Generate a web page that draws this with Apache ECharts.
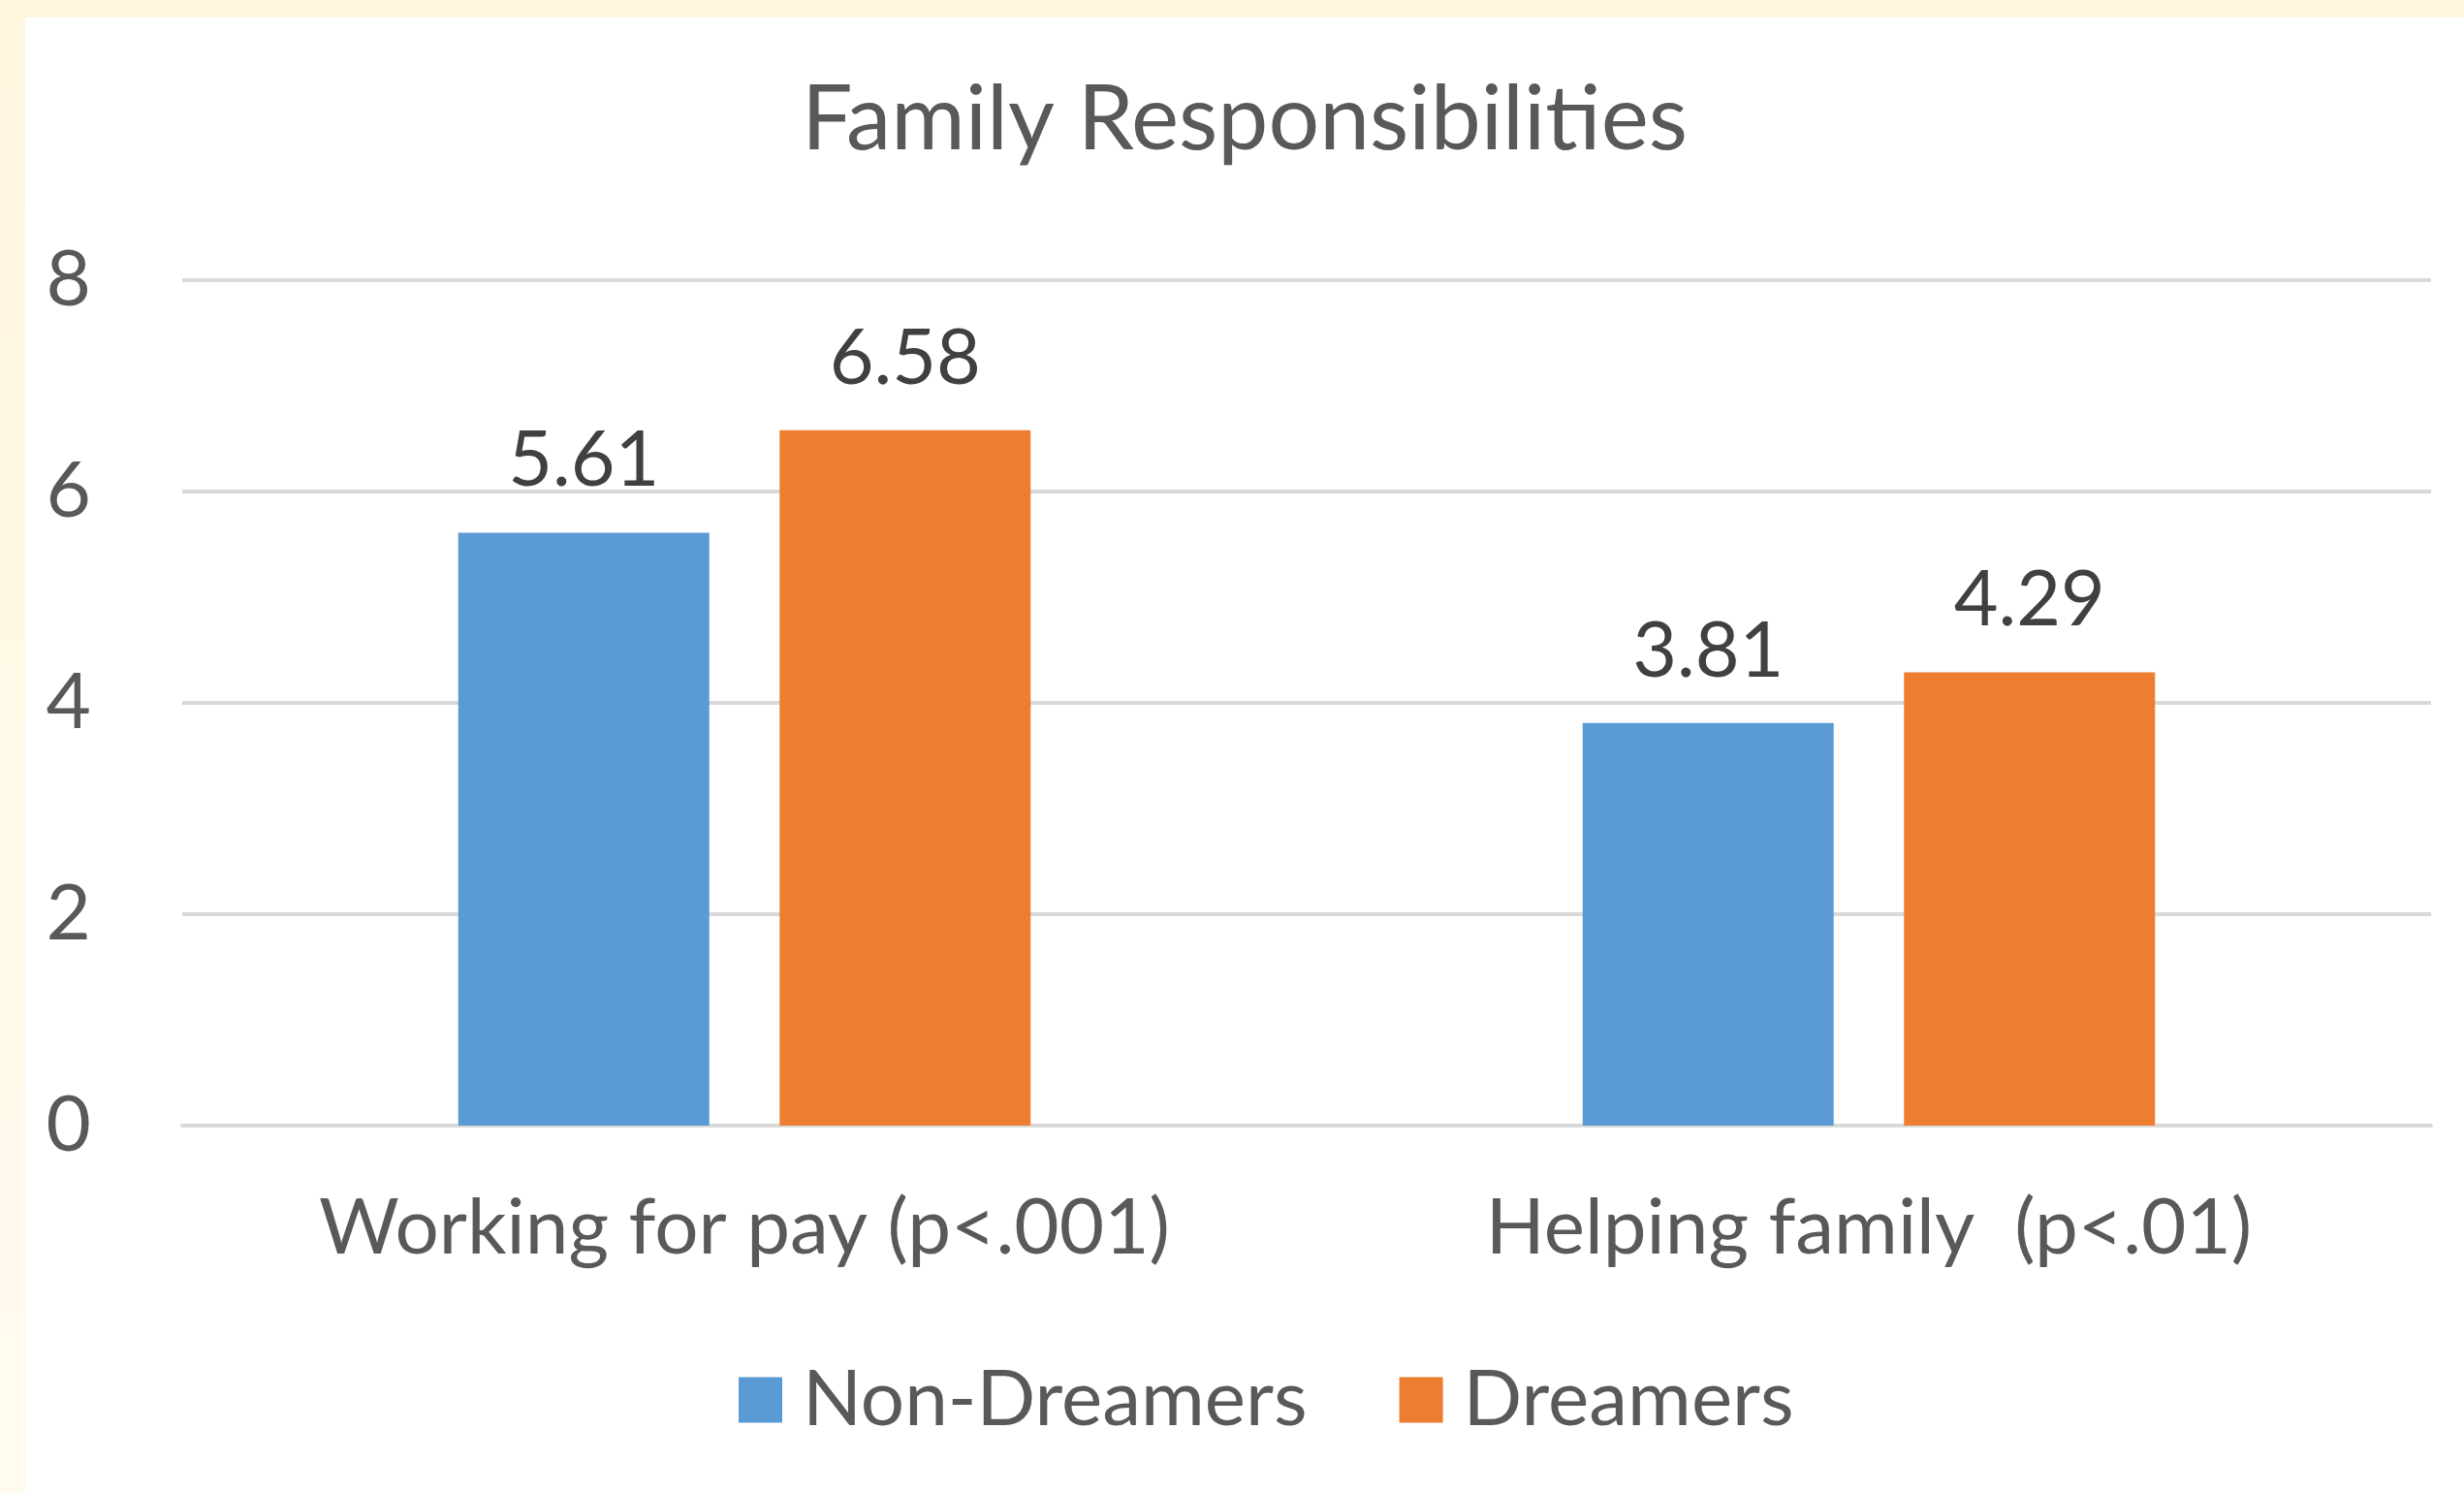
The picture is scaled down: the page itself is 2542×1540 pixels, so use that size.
<!DOCTYPE html>
<html>
<head>
<meta charset="utf-8">
<script src="https://cdn.jsdelivr.net/npm/echarts@6/dist/echarts.min.js"></script>
<style>
  html, body { margin: 0; padding: 0; width: 2542px; height: 1540px; overflow: hidden;
    background: linear-gradient(180deg, #fff6de 0%, #fffbef 100%); }
  #main { position: absolute; left: 26px; top: 18px; width: 2516px; height: 1522px; background: #fff; }
</style>
</head>
<body>
<div id="main"></div>
<script>
// data
var categories = ["Working for pay (p<.001)", "Helping family  (p<.01)"];
var nonDreamers = [5.61, 3.81];
var dreamers = [6.58, 4.29];
var seriesNames = ["Non-Dreamers", "Dreamers"];

var textColor = "#595959";
var font = "Lato";

var myChart = echarts.init(document.getElementById("main"));
var labelOpt = {
  show: true,
  position: "top",
  distance: 34,
  color: "#404040",
  fontFamily: font,
  fontSize: 79,
  formatter: function (p) { return p.value.toFixed(2); }
};
myChart.setOption({
  animation: false,
  title: {
    text: "Family Responsibilities",
    left: "center",
    top: 54,
    padding: [5, 0, 5, 22],
    textStyle: { color: textColor, fontFamily: font, fontSize: 93, fontWeight: "normal" }
  },
  legend: {
    data: seriesNames,
    left: 736,
    top: 1386,
    padding: 0,
    icon: "rect",
    itemWidth: 45,
    itemHeight: 47,
    itemGap: 95,
    textStyle: { color: textColor, fontFamily: font, fontSize: 80, padding: [0, 0, 0, 16] }
  },
  grid: { left: 162, right: 34, top: 271, bottom: 379 },
  xAxis: {
    type: "category",
    data: categories,
    axisLine: { lineStyle: { color: "#d9d9d9", width: 4 } },
    axisTick: { show: false },
    axisLabel: { color: textColor, fontFamily: font, fontSize: 80, margin: 66 }
  },
  yAxis: {
    type: "value",
    min: 0,
    max: 8,
    interval: 2,
    axisLine: { show: false },
    axisTick: { show: false },
    splitLine: { lineStyle: { color: "#d9d9d9", width: 4 } },
    axisLabel: { color: textColor, fontFamily: font, fontSize: 80, margin: 94 }
  },
  series: [
    {
      name: seriesNames[0],
      type: "bar",
      data: nonDreamers,
      itemStyle: { color: "#5b9bd5" },
      barWidth: 259,
      barGap: "28%",
      label: labelOpt
    },
    {
      name: seriesNames[1],
      type: "bar",
      data: dreamers,
      itemStyle: { color: "#ed7d31" },
      barWidth: 259,
      barGap: "28%",
      label: labelOpt
    }
  ]
});
</script>
</body>
</html>
